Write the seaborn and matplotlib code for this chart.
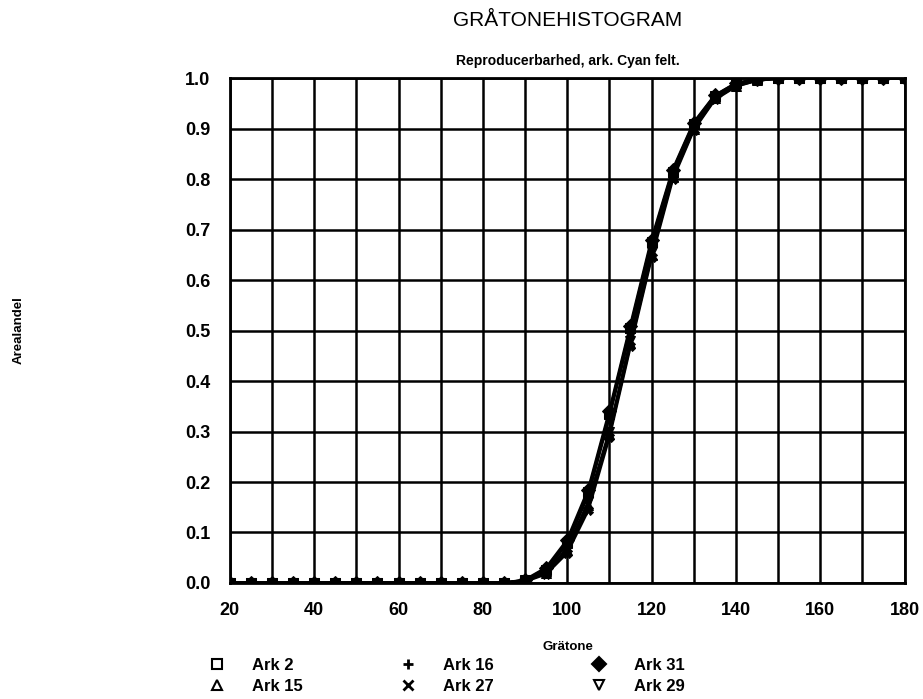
import pandas as pd
import matplotlib
matplotlib.use("Agg")
import matplotlib.pyplot as plt
import seaborn as sns
import numpy as np

# graatone values 20..180 step 5
graatone = [20, 25, 30, 35, 40, 45, 50, 55, 60, 65, 70, 75, 80, 85, 90, 95, 100,
            105, 110, 115, 120, 125, 130, 135, 140, 145, 150, 155, 160, 165, 170, 175, 180]

zeros = [0.0] * 14
tail = [1.0] * 7

ark_2 = zeros + [0.005, 0.025, 0.080, 0.180, 0.335, 0.505, 0.675, 0.815, 0.910, 0.965, 0.990, 0.998] + tail
ark_15 = zeros + [0.004, 0.020, 0.065, 0.155, 0.295, 0.475, 0.650, 0.805, 0.900, 0.960, 0.985, 0.996] + tail
ark_16 = zeros + [0.005, 0.028, 0.078, 0.175, 0.330, 0.500, 0.670, 0.812, 0.908, 0.963, 0.988, 0.997] + tail
ark_27 = zeros + [0.003, 0.018, 0.060, 0.145, 0.290, 0.470, 0.645, 0.800, 0.898, 0.958, 0.984, 0.996] + tail
ark_31 = zeros + [0.006, 0.030, 0.085, 0.185, 0.340, 0.510, 0.680, 0.818, 0.912, 0.966, 0.990, 0.998] + tail
ark_29 = zeros + [0.004, 0.022, 0.068, 0.160, 0.300, 0.480, 0.655, 0.808, 0.902, 0.961, 0.986, 0.997] + tail

labels = ["Ark 2", "Ark 15", "Ark 16", "Ark 27", "Ark 31", "Ark 29"]
series = [ark_2, ark_15, ark_16, ark_27, ark_31, ark_29]
markers = ["s", "^", "P", "X", "D", "v"]
legend_markers = ["s", "^", "+", "x", "D", "v"]


def plot_graatone():
    sns.set_style("white")
    plt.rcParams["font.family"] = ["Liberation Sans", "DejaVu Sans"]
    plt.rcParams["text.color"] = "black"

    fig = plt.figure(figsize=(9.23, 6.99), dpi=100)
    ax = fig.add_axes([0.249, 0.166, 0.731, 0.722])

    for lab, vals, mk in zip(labels, series, markers):
        df = pd.DataFrame({"x": graatone, "y": vals})
        sns.lineplot(x="x", y="y", data=df, ax=ax, color="black", linewidth=2.2,
                     marker=mk, markersize=7, markeredgecolor="black", label=lab,
                     legend=False)

    ax.set_xlim(20, 180)
    ax.set_ylim(0, 1.0)
    xt = np.arange(20, 181, 10)
    ax.set_xticks(xt)
    ax.set_xticklabels([str(v) if v % 20 == 0 else "" for v in xt])
    ax.set_yticks(np.arange(0, 1.01, 0.1))
    ax.set_yticklabels([f"{v:.1f}" for v in np.arange(0, 1.01, 0.1)])
    ax.grid(True, color="black", linewidth=1.8)
    for s in ax.spines.values():
        s.set_color("black")
        s.set_linewidth(2)
    ax.tick_params(axis="both", direction="out", length=8, width=2, color="black",
                   labelcolor="black", labelsize=13, pad=6)
    for t in ax.get_xticklabels() + ax.get_yticklabels():
        t.set_fontweight("bold")
    ax.set_xlabel("")
    ax.set_ylabel("")

    fig.text(0.615, 0.970, "GRÅTONEHISTOGRAM", ha="center", va="center", fontsize=15)
    fig.text(0.615, 0.913, "Reproducerbarhed, ark. Cyan felt.", ha="center", va="center",
             fontsize=10, fontweight="bold")
    fig.text(0.615, 0.074, "Grätone", ha="center", va="center", fontsize=9.5, fontweight="bold")
    fig.text(0.02, 0.528, "Arealandel", ha="center", va="center", rotation=90,
             fontsize=9.5, fontweight="bold")

    handles = [plt.Line2D([], [], linestyle="none", marker=m, color="black",
                          markerfacecolor="none" if m in ("s", "^", "v") else "black",
                          markersize=7, markeredgewidth=2 if m in ("+", "x") else 1.5)
               for m in legend_markers]
    fig.legend(handles, labels, ncol=3, loc="center left", bbox_to_anchor=(0.21, 0.033),
               frameon=False, prop={"size": 12, "weight": "bold"}, columnspacing=5.8,
               handletextpad=1.6, labelspacing=0.4, handlelength=1.0)

    plt.savefig("out.png", dpi=100)


def main():
    plot_graatone()


if __name__ == "__main__":
    main()
